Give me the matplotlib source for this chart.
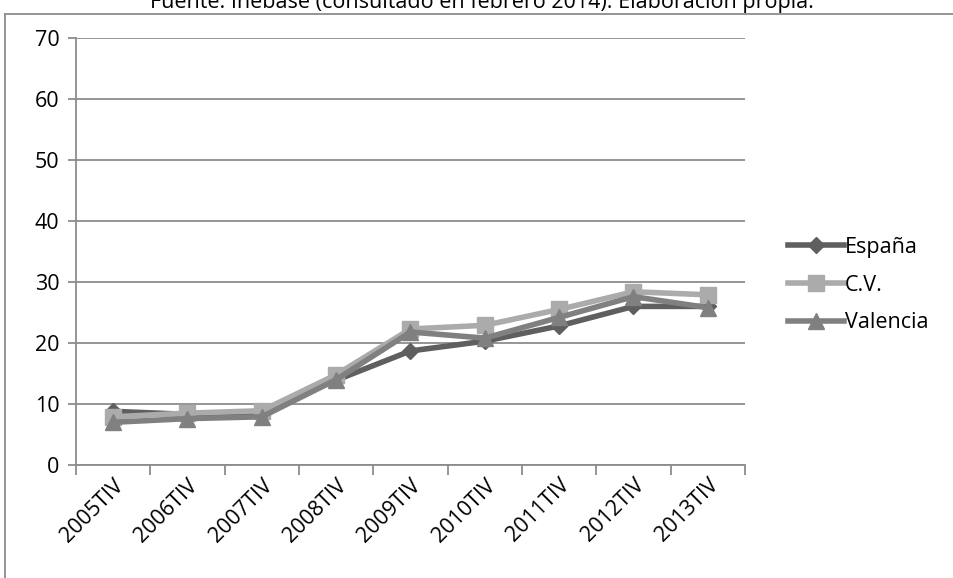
import matplotlib
matplotlib.use("Agg")
import matplotlib.pyplot as plt
from matplotlib.lines import Line2D

# Quarterly series (fourth quarter of each year)
periods = ["2005TIV", "2006TIV", "2007TIV", "2008TIV", "2009TIV",
           "2010TIV", "2011TIV", "2012TIV", "2013TIV"]
espana = [8.8, 8.3, 8.6, 13.9, 18.7, 20.3, 22.8, 26.0, 26.0]
cv = [7.9, 8.5, 8.9, 14.8, 22.3, 22.9, 25.5, 28.4, 27.9]
valencia = [7.0, 7.6, 7.9, 14.0, 21.8, 20.8, 24.2, 27.6, 25.8]
yticks = [0, 10, 20, 30, 40, 50, 60, 70]
source = "Fuente: Inebase (consultado en febrero 2014). Elaboración propia."

plt.rcParams["font.family"] = ["Open Sans", "DejaVu Sans"]
FS = 15.5

W, H = 954, 578
fig = plt.figure(figsize=(W / 100, H / 100), dpi=100)

ax = fig.add_axes([76 / W, 1 - 465 / H, (745 - 76) / W, (465 - 38) / H])

x = list(range(len(periods)))
series = [
    ("España", espana, "#5f5f5f", "D", 8),
    ("C.V.", cv, "#ababab", "s", 11),
    ("Valencia", valencia, "#808080", "^", 12),
]
for name, vals, col, mk, ms in series:
    ax.plot(x, vals, color=col, lw=4.0, marker=mk, markersize=ms,
            markerfacecolor=col, markeredgecolor=col, label=name,
            solid_joinstyle="round", zorder=3)

ax.set_xlim(-0.5, len(periods) - 0.5)
ax.set_ylim(0, 70)
ax.set_yticks(yticks)
ax.set_yticklabels([str(v) for v in yticks], fontsize=FS)
ax.yaxis.grid(True, color="#8c8c8c", lw=1.3)
ax.set_axisbelow(True)

# Category boundary ticks on the x axis
ax.set_xticks([i - 0.5 for i in range(len(periods) + 1)])
ax.set_xticklabels([])
ax.set_xticks(x, minor=True)
ax.set_xticklabels(periods, minor=True, rotation=45, ha="right", va="top",
                   rotation_mode="anchor", fontsize=FS)
ax.tick_params(axis="x", which="minor", length=0, pad=7)
ax.tick_params(axis="x", which="major", length=7, width=1.3, color="#8c8c8c")
ax.tick_params(axis="y", length=6, width=1.3, color="#8c8c8c", pad=6)

for side in ("top", "right"):
    ax.spines[side].set_visible(False)
for side in ("left", "bottom"):
    ax.spines[side].set_color("#8c8c8c")
    ax.spines[side].set_linewidth(1.3)

handles = [Line2D([0], [0], color=c, lw=4.0, marker=m, markersize=s,
                  markerfacecolor=c, markeredgecolor=c)
           for _, _, c, m, s in series]
fig.legend(handles, [s[0] for s in series], loc="center left",
           bbox_to_anchor=(777 / W, 1 - 285 / H), frameon=False,
           fontsize=FS, handlelength=2.6, handletextpad=0.05,
           labelspacing=0.78, borderpad=0)

# Outer chart frame
fig.add_artist(Line2D([5 / W, 5 / W], [0, 1 - 14 / H], color="#8c8c8c",
                      lw=1.3, transform=fig.transFigure))
fig.add_artist(Line2D([5 / W, 1], [1 - 14 / H, 1 - 14 / H], color="#8c8c8c",
                      lw=1.3, transform=fig.transFigure))

fig.text(482 / W, 1 - 8 / H, source, ha="center", va="baseline",
         fontsize=FS, color="black")

fig.savefig("out.png", dpi=100, facecolor="white")
